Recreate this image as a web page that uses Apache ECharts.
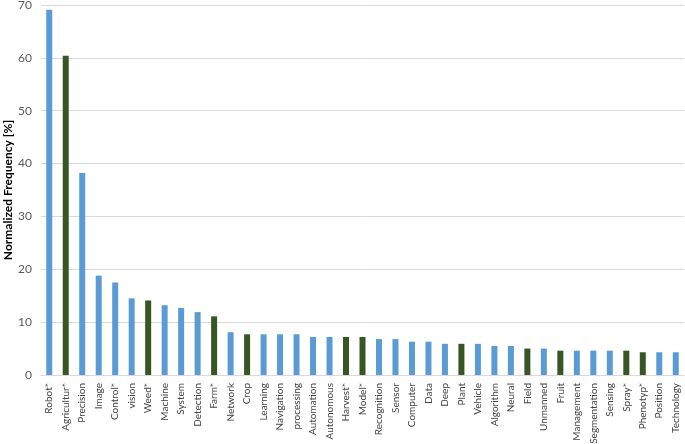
<!DOCTYPE html>
<html><head><meta charset="utf-8">
<script src="https://cdn.jsdelivr.net/npm/echarts@6/dist/echarts.min.js"></script>
<style>html,body{margin:0;padding:0;background:#fff}#c{width:685px;height:444px}</style>
</head><body><div id="c"></div>
<script>
const categories = ["Robot*","Agricultur*","Precision","Image","Control*","vision","Weed*","Machine","System","Detection","Farm*","Network","Crop","Learning","Navigation","processing","Automation","Autonomous","Harvest*","Model*","Recognition","Sensor","Computer","Data","Deep","Plant","Vehicle","Algorithm","Neural","Field","Unmanned","Fruit","Management","Segmentation","Sensing","Spray*","Phenotyp*","Position","Technology"];
const values = [69.1,60.4,38.2,18.8,17.5,14.5,14.1,13.2,12.7,11.9,11.1,8.1,7.7,7.7,7.7,7.7,7.2,7.2,7.2,7.2,6.8,6.8,6.3,6.3,5.9,5.9,5.9,5.5,5.5,5.0,5.0,4.6,4.6,4.6,4.6,4.6,4.3,4.3,4.3];
const isGreen = [0,1,0,0,0,0,1,0,0,0,1,0,1,0,0,0,0,0,1,1,0,0,0,0,0,1,0,0,0,1,0,1,0,0,0,1,1,0,0];
const yTicks = {min:0, max:70, interval:10};
const BLUE = '#5b9bd5', GREEN = '#375623';
const chart = echarts.init(document.getElementById('c'), null, {renderer:'canvas'});
chart.setOption({
  animation:false,
  grid:{left:41, right:1, top:5, bottom:69, containLabel:false, outerBoundsMode:'none'},
  xAxis:{type:'category', data:categories,
    axisLine:{lineStyle:{color:'#d9d9d9'}}, axisTick:{show:false},
    axisLabel:{rotate:90, interval:0, fontFamily:'Lato', fontSize:10, color:'#404040', margin:8}},
  yAxis:{type:'value', min:yTicks.min, max:yTicks.max, interval:yTicks.interval,
    name:'Normalized Frequency [%]', nameLocation:'middle', nameGap:27, nameMoveOverlap:false,
    nameTextStyle:{fontFamily:'Lato', fontSize:12, fontWeight:'bold', color:'#000'},
    axisLine:{show:false}, axisTick:{show:false},
    splitLine:{lineStyle:{color:'#d9d9d9'}},
    axisLabel:{fontFamily:'Lato', fontSize:12, color:'#595959', margin:9}},
  series:[{type:'bar', barWidth:6,
    data: values.map((v,i)=>({value:v, itemStyle:{color: isGreen[i]?GREEN:BLUE}}))}]
});
</script></body></html>
